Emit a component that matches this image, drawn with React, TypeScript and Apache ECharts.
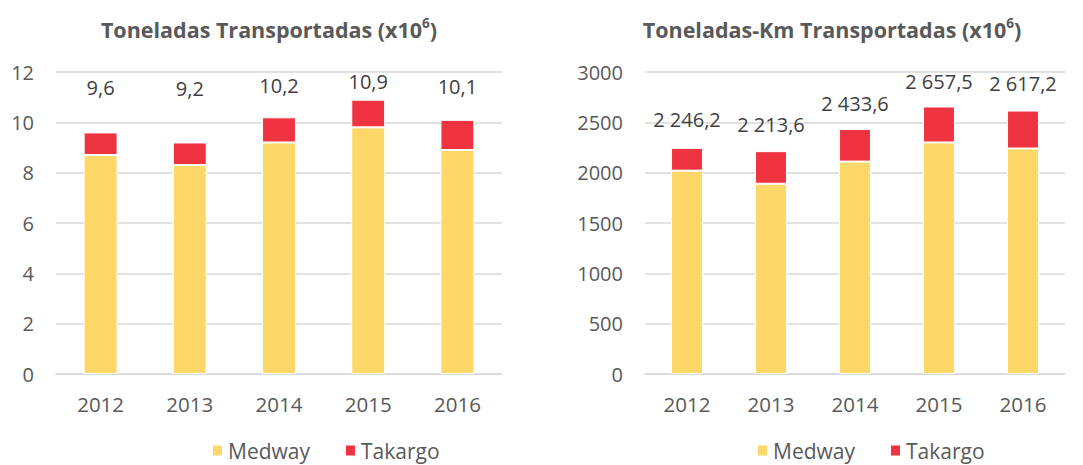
import React, { useEffect, useRef } from "react";
import * as echarts from "echarts";

const years = ["2012", "2013", "2014", "2015", "2016"];
const tonMedway = [8.7, 8.3, 9.2, 9.8, 8.9];
const tonTakargo = [0.9, 0.9, 1.0, 1.1, 1.2];
const tkmMedway = [2020, 1890, 2110, 2300, 2240];
const tkmTakargo = [226.2, 323.6, 323.6, 357.5, 377.2];

const leftLabelOffsets = [-35, -44, -22, -8, -23];
const rightLabelOffsets = [-18, -17, -16, -15, -17];

const YELLOW = "#FDD868";
const RED = "#EF3340";
const GRID = "#D9D9D9";
const AXIS_TXT = "#595959";
const FONT = "'Open Sans', sans-serif";

function fmt(v: number): string {
  const s = v.toFixed(1);
  const [intPart, dec] = s.split(".");
  const withSpace = intPart.replace(/\B(?=(\d{3})+(?!\d))/g, " ");
  return withSpace + "," + dec;
}

export default function App() {
  const ref = useRef<HTMLDivElement>(null);
  useEffect(() => {
    if (!ref.current) return;
    const chart = echarts.init(ref.current, undefined, { renderer: "svg" });
    const leftTotals = tonMedway.map((v, i) => v + tonTakargo[i]);
    const rightTotals = tkmMedway.map((v, i) => v + tkmTakargo[i]);
    const titleRich = {
      a: { fontFamily: FONT, fontSize: 21.5, fontWeight: "bold", color: AXIS_TXT, lineHeight: 26 },
      s: { fontFamily: FONT, fontSize: 13.5, fontWeight: "bold", color: AXIS_TXT, verticalAlign: "top", lineHeight: 26, padding: [0, 0, 9, 0] },
    };
    const mkTakargoData = (vals: number[], totals: number[], offs: number[]) =>
      vals.map((v, i) => ({
        value: v,
        label: { show: true, position: "top", distance: 0, offset: [0, offs[i]], formatter: () => fmt(totals[i]) },
      }));
    const labelStyle = { fontFamily: FONT, fontSize: 20, color: "#404040", lineHeight: 20 };
    const xAxisBase = {
      type: "category",
      data: years,
      axisTick: { show: false },
      axisLine: { lineStyle: { color: GRID, width: 1.5 } },
      axisLabel: { color: AXIS_TXT, fontFamily: FONT, fontSize: 20.5, margin: 19 },
    };
    const yAxisBase = {
      type: "value",
      min: 0,
      axisLine: { show: false },
      axisTick: { show: false },
      splitLine: { lineStyle: { color: GRID, width: 1.5 } },
      axisLabel: { color: AXIS_TXT, fontFamily: FONT, fontSize: 20, margin: 22, formatter: (v: number) => String(v) },
    };
    const legendBase = {
      data: ["Medway", "Takargo"], top: 440, padding: 0, itemWidth: 11, itemHeight: 12, itemGap: 34, icon: "rect",
      textStyle: { color: AXIS_TXT, fontFamily: FONT, fontSize: 21, lineHeight: 20 },
    };
    const barItem = (c: string) => ({ color: c, borderColor: "#fff", borderWidth: 1 });
    chart.setOption({
      animation: false,
      title: [
        { text: "{a|Toneladas Transportadas (x10}{s|6}{a|)}", left: 264, top: 11, textAlign: "center", textStyle: { rich: titleRich } },
        { text: "{a|Toneladas-Km Transportadas (x10}{s|6}{a|)}", left: 827, top: 11, textAlign: "center", textStyle: { rich: titleRich } },
      ],
      legend: [
        { ...legendBase, left: 211 },
        { ...legendBase, left: 756 },
      ],
      grid: [
        { left: 56, right: 1083 - 502, top: 72, bottom: 91 },
        { left: 645, right: 18, top: 72, bottom: 91 },
      ],
      xAxis: [
        { ...xAxisBase, gridIndex: 0 },
        { ...xAxisBase, gridIndex: 1 },
      ],
      yAxis: [
        { ...yAxisBase, gridIndex: 0, max: 12, interval: 2 },
        { ...yAxisBase, gridIndex: 1, max: 3000, interval: 500 },
      ],
      series: [
        { name: "Medway", type: "bar", stack: "L", xAxisIndex: 0, yAxisIndex: 0, barWidth: "38%", data: tonMedway, itemStyle: barItem(YELLOW) },
        { name: "Takargo", type: "bar", stack: "L", xAxisIndex: 0, yAxisIndex: 0, barWidth: "38%", data: mkTakargoData(tonTakargo, leftTotals, leftLabelOffsets), itemStyle: barItem(RED), label: labelStyle },
        { name: "Medway", type: "bar", stack: "R", xAxisIndex: 1, yAxisIndex: 1, barWidth: "38%", data: tkmMedway, itemStyle: barItem(YELLOW) },
        { name: "Takargo", type: "bar", stack: "R", xAxisIndex: 1, yAxisIndex: 1, barWidth: "38%", data: mkTakargoData(tkmTakargo, rightTotals, rightLabelOffsets), itemStyle: barItem(RED), label: labelStyle },
      ],
    });
    return () => chart.dispose();
  }, []);
  return <div ref={ref} style={{ position: "absolute", left: 0, top: 0, width: 1083, height: 465, background: "#fff" }} />;
}
